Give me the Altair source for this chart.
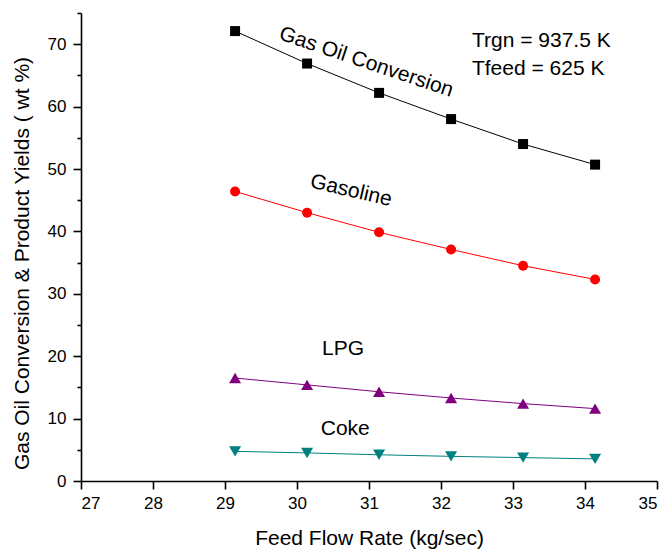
import altair as alt
import pandas as pd

# ---- data ----
feed_rate = [29.14, 30.14, 31.14, 32.14, 33.14, 34.14]
gas_oil_conversion = [72.1, 66.9, 62.2, 58.0, 54.0, 50.7]
gasoline = [46.4, 43.0, 39.85, 37.1, 34.5, 32.3]
lpg = [16.5, 15.4, 14.3, 13.3, 12.4, 11.6]
coke = [4.75, 4.5, 4.2, 3.95, 3.75, 3.55]

series_names = ["Gas Oil Conversion", "Gasoline", "LPG", "Coke"]
series_values = [gas_oil_conversion, gasoline, lpg, coke]
series_colors = ["#000000", "#ff0000", "#800080", "#008080"]
series_shapes = ["square", "circle", "triangle-up", "triangle-down"]
series_sizes = [100, 100, 145, 145]

label_text = ["Gas Oil Conversion", "Gasoline", "LPG", "Coke"]
label_x = [30.96, 30.75, 30.64, 30.67]
label_y = [67.1, 46.5, 21.2, 8.4]
label_angle = [18.5, 13, 0, 0]

note_text = ["Trgn = 937.5 K", "Tfeed = 625 K"]
note_x = [32.43, 32.43]
note_y = [69.55, 65.05]

x_ticks = [27 + 0.5 * i for i in range(17)]
y_ticks = [5 * i for i in range(16)]

FONT = "Liberation Sans, Arial, sans-serif"

x_scale = alt.Scale(domain=[27, 35], nice=False, zero=False)
y_scale = alt.Scale(domain=[0, 75], nice=False)

x_axis = alt.Axis(
    title="Feed Flow Rate (kg/sec)",
    values=x_ticks,
    format="d",
    labelExpr="datum.value % 1 === 0 ? format(datum.value, 'd') : ''",
    tickSize={"condition": {"test": "datum.value % 1 === 0", "value": 8}, "value": 4},
    labelOverlap=False,
    grid=False,
    domainColor="black", domainWidth=1.6,
    tickColor="black", tickWidth=1.6,
    labelFont=FONT, labelFontSize=17, labelColor="black", labelPadding=6,
    titleFont=FONT, titleFontSize=21, titleFontWeight="normal", titleColor="black",
    titleBaseline="alphabetic", titleY=63,
)
y_axis = alt.Axis(
    title="Gas Oil Conversion & Product Yields ( wt %)",
    values=y_ticks,
    labelExpr="datum.value % 10 === 0 ? format(datum.value, 'd') : ''",
    tickSize={"condition": {"test": "datum.value % 10 === 0", "value": 8}, "value": 4},
    labelOverlap=False,
    grid=False,
    domainColor="black", domainWidth=1.6,
    tickColor="black", tickWidth=1.6,
    labelFont=FONT, labelFontSize=17, labelColor="black", labelPadding=7,
    titleFont=FONT, titleFontSize=21, titleFontWeight="normal", titleColor="black",
    titleBaseline="alphabetic", titleX=-53, titleY=250, titleAngle=-90,
)

layers = []
for name, vals, col, shp, sz in zip(series_names, series_values, series_colors,
                                     series_shapes, series_sizes):
    df = pd.DataFrame({"feed": feed_rate, "value": vals, "series": name})
    base = alt.Chart(df).encode(
        x=alt.X("feed:Q", scale=x_scale, axis=x_axis),
        y=alt.Y("value:Q", scale=y_scale, axis=y_axis),
    )
    layers.append(base.mark_line(color=col, strokeWidth=1))
    layers.append(base.mark_point(shape=shp, filled=True, size=sz, color=col, opacity=1))

labels_df = pd.DataFrame({"text": label_text, "x": label_x, "y": label_y, "angle": label_angle})
labels = alt.Chart(labels_df).mark_text(
    font=FONT, fontSize=21, color="black", align="center", baseline="middle"
).encode(
    x=alt.X("x:Q", scale=x_scale, axis=x_axis),
    y=alt.Y("y:Q", scale=y_scale, axis=y_axis),
    text="text:N",
    angle=alt.Angle("angle:Q", scale=None),
)

notes_df = pd.DataFrame({"text": note_text, "x": note_x, "y": note_y})
notes = alt.Chart(notes_df).mark_text(
    font=FONT, fontSize=21, color="black", align="left", baseline="alphabetic"
).encode(
    x=alt.X("x:Q", scale=x_scale, axis=x_axis),
    y=alt.Y("y:Q", scale=y_scale, axis=y_axis),
    text="text:N",
)

chart = alt.layer(*layers, labels, notes).properties(
    width=576,
    height=468,
    autosize=alt.AutoSizeParams(type="none"),
    padding={"left": 81, "top": 13, "right": 11, "bottom": 70},
    background="white",
).configure_view(stroke=None)

chart.save("out.html", embed_options={"renderer": "svg", "actions": False})
